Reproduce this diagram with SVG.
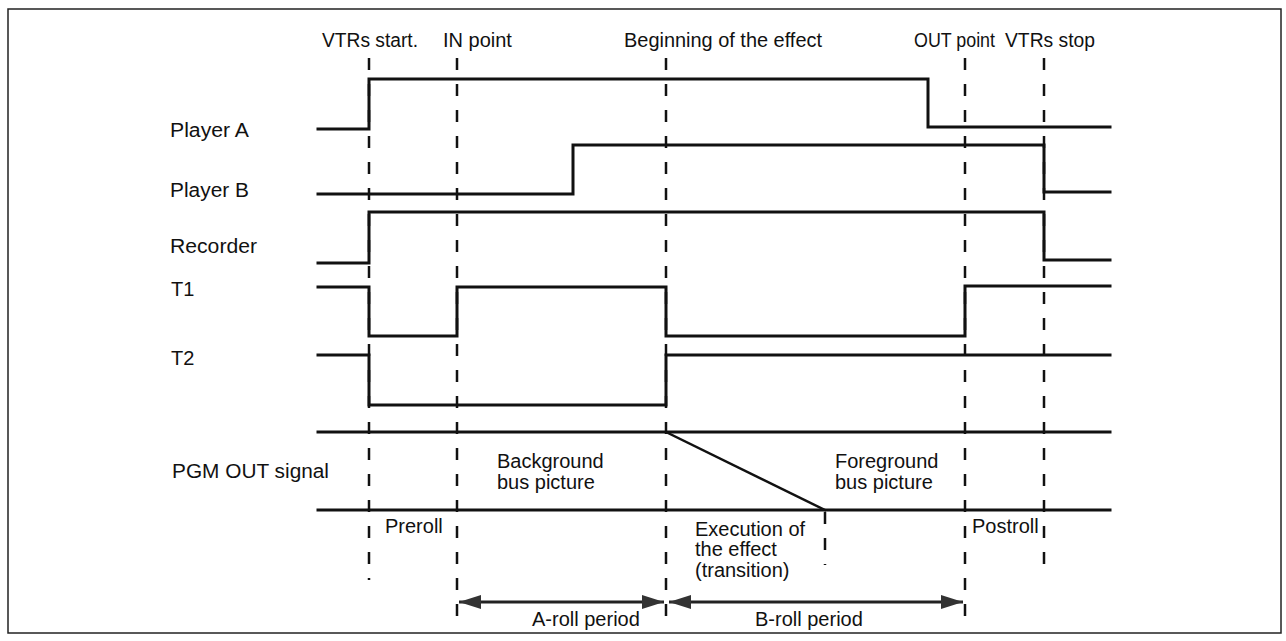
<svg xmlns="http://www.w3.org/2000/svg" width="1286" height="641" viewBox="0 0 1286 641">
<defs>
<style>
.sig{fill:none;stroke:#111;stroke-width:3;stroke-linejoin:miter;stroke-linecap:square}
.dash{fill:none;stroke:#111;stroke-width:2.5;stroke-dasharray:12 14}
.arr{fill:none;stroke:#222;stroke-width:3}
text{font-family:"Liberation Sans",Arial,Helvetica,sans-serif;font-size:20px;fill:#111}
</style>
<marker id="ah" viewBox="0 0 22 14" refX="22" refY="7" markerWidth="22" markerHeight="14" markerUnits="userSpaceOnUse" orient="auto-start-reverse">
<path d="M0,0 L22,7 L0,14 Z" fill="#333"/>
</marker>
</defs>
<rect x="8" y="9" width="1273" height="624" fill="#fff" stroke="#222" stroke-width="1.5"/>

<g id="top-labels">
<text x="322" y="47" textLength="96" lengthAdjust="spacingAndGlyphs">VTRs start.</text>
<text x="443" y="47">IN point</text>
<text x="624" y="47" textLength="198" lengthAdjust="spacingAndGlyphs">Beginning of the effect</text>
<text x="914" y="47" textLength="81" lengthAdjust="spacingAndGlyphs">OUT point</text>
<text x="1005" y="47" textLength="90" lengthAdjust="spacingAndGlyphs">VTRs stop</text>
</g>

<g id="markers">
<line class="dash" x1="369" y1="58" x2="369" y2="580"/>
<line class="dash" x1="457" y1="58" x2="457" y2="622"/>
<line class="dash" x1="666" y1="58" x2="666" y2="622"/>
<line class="dash" x1="965" y1="58" x2="965" y2="620"/>
<line class="dash" x1="1044" y1="58" x2="1044" y2="576"/>
<line class="dash" x1="825" y1="512" x2="825" y2="565"/>
</g>

<g id="player-a">
<text x="170" y="137" textLength="79" lengthAdjust="spacingAndGlyphs">Player A</text>
<path class="sig" d="M318,129 H369 V79 H928 V127 H1110"/>
</g>
<g id="player-b">
<text x="170" y="197" textLength="79" lengthAdjust="spacingAndGlyphs">Player B</text>
<path class="sig" d="M318,194 H573 V145 H1044 V192 H1110"/>
</g>
<g id="recorder">
<text x="170" y="253" textLength="87" lengthAdjust="spacingAndGlyphs">Recorder</text>
<path class="sig" d="M318,263 H369 V212 H1044 V260 H1110"/>
</g>
<g id="t1">
<text x="171" y="296">T1</text>
<path class="sig" d="M318,287 H369 V336 H457 V287 H666 V336 H965 V286 H1110"/>
</g>
<g id="t2">
<text x="171" y="365">T2</text>
<path class="sig" d="M318,355 H369 V405 H666 V355 H1110"/>
</g>
<g id="pgm-out">
<text x="172" y="478" textLength="157" lengthAdjust="spacingAndGlyphs">PGM OUT signal</text>
<path class="sig" d="M318,432 H1110"/>
<path class="sig" d="M318,510 H1110"/>
<path class="sig" d="M666,432 L825,510" style="stroke-width:2.5"/>
<text x="497" y="468">Background</text>
<text x="497" y="489">bus picture</text>
<text x="835" y="468">Foreground</text>
<text x="835" y="489">bus picture</text>
</g>

<g id="period-labels">
<text x="385" y="533">Preroll</text>
<text x="695" y="536">Execution of</text>
<text x="695" y="556">the effect</text>
<text x="695" y="577">(transition)</text>
<text x="972" y="533">Postroll</text>
<text x="532" y="626">A-roll period</text>
<text x="755" y="626">B-roll period</text>
</g>

<g id="connectors">
<line class="arr" x1="459" y1="602" x2="664" y2="602" marker-start="url(#ah)" marker-end="url(#ah)"/>
<line class="arr" x1="669" y1="602" x2="963" y2="602" marker-start="url(#ah)" marker-end="url(#ah)"/>
</g>
</svg>
